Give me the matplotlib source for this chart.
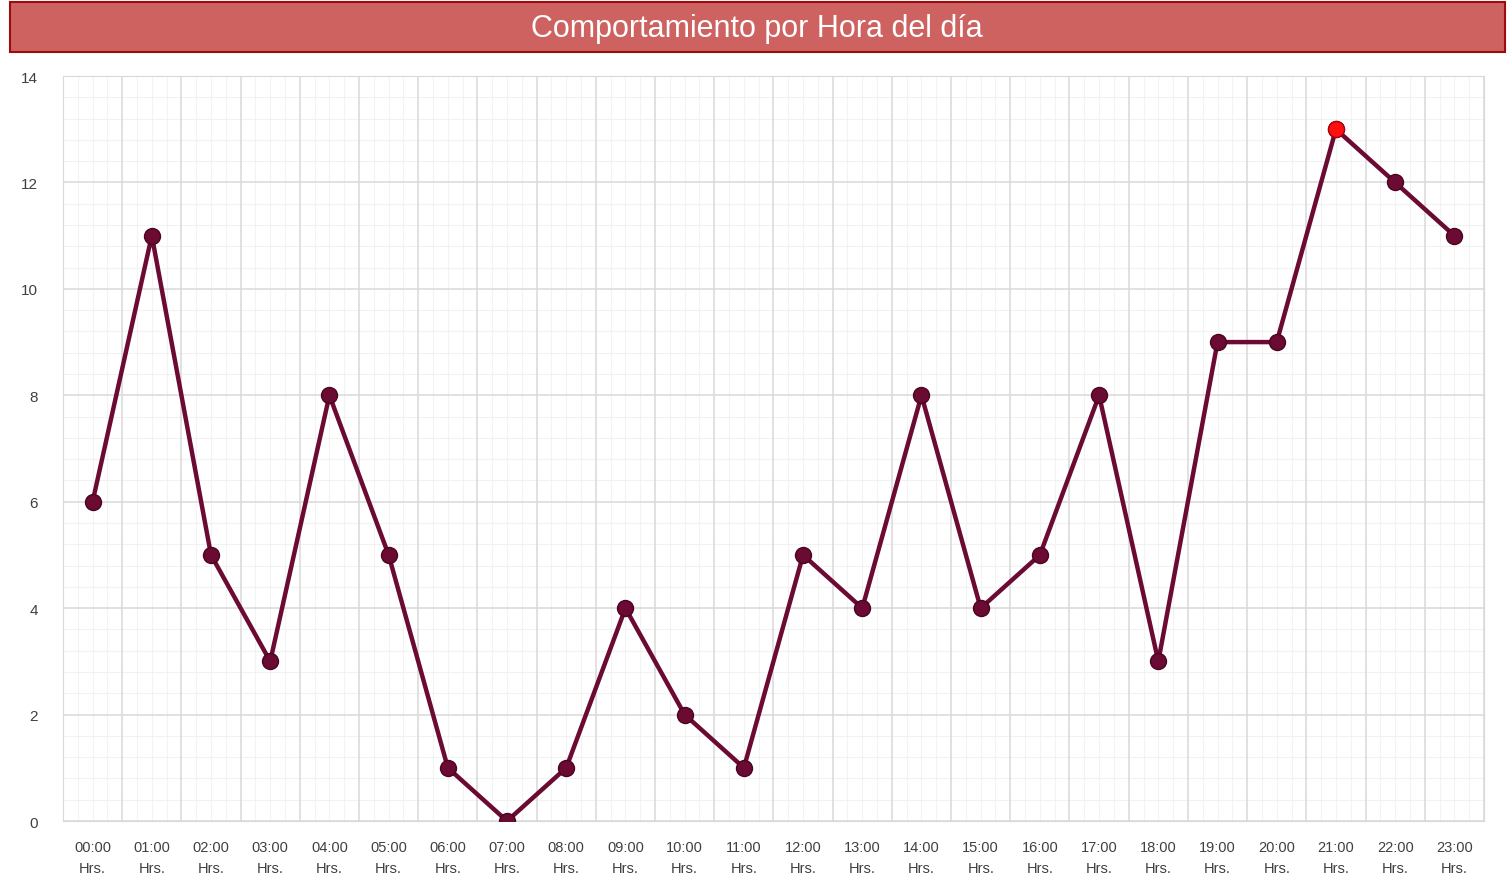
import matplotlib.pyplot as plt
from matplotlib.patches import Rectangle
from matplotlib.ticker import MultipleLocator

horas = ["%02d:00\nHrs." % h for h in range(24)]
valores = [6, 11, 5, 3, 8, 5, 1, 0, 1, 4, 2, 1, 5, 4, 8, 4, 5, 8, 3, 9, 9, 13, 12, 11]
pico = 21  # punto resaltado en rojo

plt.rcParams['font.family'] = ['Liberation Sans', 'DejaVu Sans']

fig = plt.figure(figsize=(15.07, 8.79), dpi=100)
ax = fig.add_axes([0.0418, 0.0648, 0.9429, 0.8476])

# barra de titulo
fig.patches.append(Rectangle((10 / 1507, 1 - 53 / 879), 1495 / 1507, 50 / 879,
                             transform=fig.transFigure, facecolor='#CD6260',
                             edgecolor='#9E0B0F', linewidth=1.5))
fig.text(0.5025, 1 - 29 / 879, "Comportamiento por Hora del día", color='white',
         fontsize=22, ha='center', va='center')

x = list(range(len(valores)))
ax.plot(x, valores, color='#6B0A32', linewidth=3.2, marker='o', markersize=11.5,
        markerfacecolor='#6B0A32', markeredgecolor='#4A0520', zorder=3)
ax.plot([pico], [valores[pico]], marker='o', markersize=11.5, color='#FF1010',
        markeredgecolor='#B00010', linestyle='none', zorder=4)

ax.set_xlim(-0.5, len(valores) - 0.5)
ax.set_ylim(0, 14)
ax.set_xticks(x)
ax.set_xticklabels(horas, fontsize=10.5, color='#404040', linespacing=1.6)
ax.yaxis.set_major_locator(MultipleLocator(2))
ax.yaxis.set_minor_locator(MultipleLocator(0.4))
ax.tick_params(axis='y', labelsize=11, labelcolor='#404040', length=0, pad=18)
ax.tick_params(axis='x', length=0, pad=14)
ax.tick_params(which='minor', length=0)

# cuadricula: lineas mayores entre categorias
for b in range(len(valores) + 1):
    ax.axvline(b - 0.5, color='#D9D9D9', linewidth=1.1, zorder=1)
    if b < len(valores):
        for f in (0.25, 0.5, 0.75):
            ax.axvline(b - 0.5 + f, color='#F3F3F3', linewidth=0.8, zorder=0.5)
ax.grid(axis='y', which='major', color='#D9D9D9', linewidth=1.1, zorder=1)
ax.grid(axis='y', which='minor', color='#F2F2F2', linewidth=0.8, zorder=0.5)
ax.set_axisbelow(True)

for s in ax.spines.values():
    s.set_color('#D9D9D9')

fig.savefig('out.png', dpi=100)
